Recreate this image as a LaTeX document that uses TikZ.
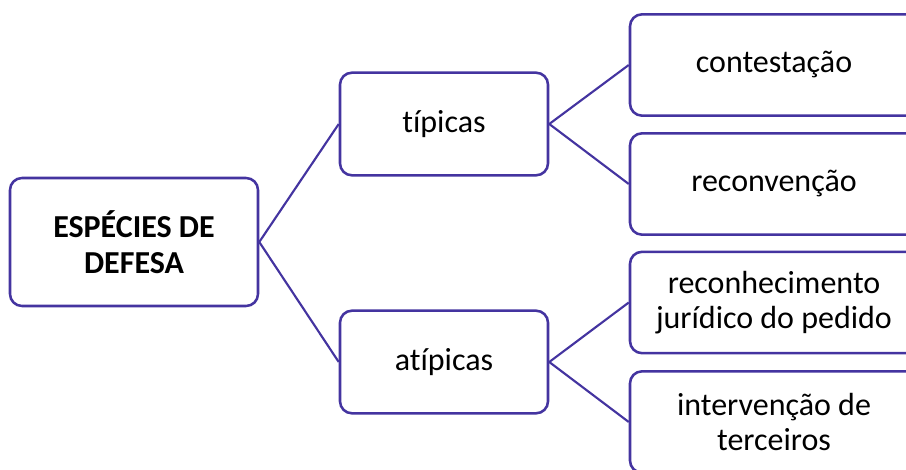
\documentclass[tikz,border=0pt]{standalone}
\usepackage{fontspec}
\setmainfont{Carlito}[Ligatures=NoCommon]
\usepackage{tikz}
\usetikzlibrary{positioning, shapes}
\definecolor{morado}{RGB}{68, 52, 160}
\tikzset{
    caja/.style={draw=morado, rectangle, rounded corners=9pt, line width=1.9pt, fill=white, align=center, inner sep=0pt, font=\fontsize{24}{26}\selectfont},
    raiz/.style={caja, minimum width=186pt, minimum height=96pt, font=\fontsize{24}{27}\selectfont\bfseries},
    rama/.style={caja, minimum width=156pt, minimum height=77pt},
    hoja/.style={caja, minimum width=216pt, minimum height=76pt},
    conn/.style={-, morado, line width=1.6pt},
}
\begin{document}
\begin{tikzpicture}[x=0.75pt, y=-0.75pt]
        \useasboundingbox (0,0) rectangle (906,470);
        \node [raiz] (r) at (134,242) {ESPÉCIES DE\\DEFESA};
        \node [rama] (ch1) at (444,124) {típicas};
        \node [rama] (ch2) at (444,362) {atípicas};
        \node [hoja] (ch1a) at (774,65) {contestação};
        \node [hoja] (ch1b) at (774,184) {reconvenção};
        \node [hoja] (ch2a) at (774,302.5) {reconhecimento\\jurídico do pedido};
        \node [hoja] (ch2b) at (774,422) {intervenção de\\terceiros};

        \draw[conn] (r.east) -- (ch1.west);
        \draw[conn] (r.east) -- (ch2.west);
        \draw[conn] (ch1.east) -- (ch1a.west);
        \draw[conn] (ch1.east) -- (ch1b.west);
        \draw[conn] (ch2.east) -- (ch2a.west);
        \draw[conn] (ch2.east) -- (ch2b.west);
    \end{tikzpicture}
\end{document}
